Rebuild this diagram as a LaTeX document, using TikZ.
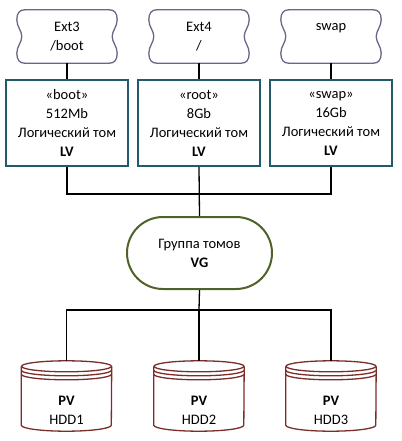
\documentclass[tikz,border=0pt]{standalone}
\usepackage{fontspec}
\setmainfont{Carlito}
\usetikzlibrary{calc}
\definecolor{cloudc}{HTML}{6F6387}
\definecolor{lvc}{HTML}{215A68}
\definecolor{vgc}{HTML}{4F6228}
\definecolor{pvc}{HTML}{7A2E2A}
\newcommand\mycloud[1]{%
  \draw[cloudline]
    ($(#1.north west)+(8,0)$) -- ($(#1.north east)+(-8,0)$)
    .. controls ($(#1.north east)+(-3,0)$) and ($(#1.north east)+(0,3)$) .. ($(#1.north east)+(0,10)$)
    .. controls ($(#1.north east)+(0,17)$) and ($(#1.east)+(-5,-6)$) .. ($(#1.east)+(-5,0)$)
    .. controls ($(#1.east)+(-5,6)$) and ($(#1.south east)+(0,-17)$) .. ($(#1.south east)+(0,-10)$)
    .. controls ($(#1.south east)+(0,-3)$) and ($(#1.south east)+(-3,0)$) .. ($(#1.south east)+(-8,0)$)
    -- ($(#1.south west)+(8,0)$)
    .. controls ($(#1.south west)+(3,0)$) and ($(#1.south west)+(0,-3)$) .. ($(#1.south west)+(0,-10)$)
    .. controls ($(#1.south west)+(0,-17)$) and ($(#1.west)+(5,6)$) .. ($(#1.west)+(5,0)$)
    .. controls ($(#1.west)+(5,-6)$) and ($(#1.north west)+(0,17)$) .. ($(#1.north west)+(0,10)$)
    .. controls ($(#1.north west)+(0,3)$) and ($(#1.north west)+(3,0)$) .. cycle;}
\newcommand\mydisk[1]{%
  \draw[diskline] ($(#1.north west)+(0,5.5)$) -- ($(#1.south west)+(0,-6)$)
    arc[start angle=180, end angle=0, x radius=45, y radius=6]
    -- ($(#1.north east)+(0,5.5)$);
  \draw[diskline] ($(#1.north)+(0,5.5)$) ellipse [x radius=45, y radius=5.5];
  \draw[diskline] ($(#1.north west)+(0,9.5)$) arc[start angle=180, end angle=0, x radius=45, y radius=5.5];
  \draw[diskline] ($(#1.north west)+(0,13.5)$) arc[start angle=180, end angle=0, x radius=45, y radius=5.5];}
\begin{document}
\begin{tikzpicture}[x=1pt,y=-1pt,
  every node/.style={font=\fontsize{14.5}{19}\selectfont, align=center, inner sep=0pt},
  cloudline/.style={draw=cloudc, line width=1.3pt},
  cloudbox/.style={minimum width=100pt, minimum height=53pt},
  lvbox/.style={draw=lvc, line width=2pt, minimum width=122pt, minimum height=86pt},
  vgbox/.style={draw=vgc, line width=2pt, rounded corners=36pt, minimum width=145pt, minimum height=72pt},
  diskbox/.style={minimum width=90pt, minimum height=70pt},
  diskline/.style={draw=pvc, line width=1.3pt},
  conn/.style={draw=black, line width=1.3pt}]
\useasboundingbox (0,0) rectangle (401,441);
% clouds
\node[cloudbox] (c1) at (67,36.5) {Ext3\\/boot};
\node[cloudbox] (c2) at (199,36.5) {Ext4\\/};
\node[cloudbox] (c3) at (331,36.5) {swap\\\mbox{}};
\mycloud{c1}\mycloud{c2}\mycloud{c3}
% LV boxes
\node[lvbox] (b1) at (67,123) {«boot»\\512Mb\\Логический том\\\textbf{LV}};
\node[lvbox] (b2) at (199,123) {«root»\\8Gb\\Логический том\\\textbf{LV}};
\node[lvbox] (b3) at (331,123) {«swap»\\16Gb\\Логический том\\\textbf{LV}};
% VG
\node[vgbox] (vg) at (199.5,253) {Группа томов\\\textbf{VG}};
% disks
\node[diskbox] (p1) at (66.5,396) {};
\node[diskbox] (p2) at (199,396) {};
\node[diskbox] (p3) at (331,396) {};
\mydisk{p1}\mydisk{p2}\mydisk{p3}
\node (t1) at ($(p1.center)+(0,14)$) {\textbf{PV}\\HDD1};
\node (t2) at ($(p2.center)+(0,14)$) {\textbf{PV}\\HDD2};
\node (t3) at ($(p3.center)+(0,14)$) {\textbf{PV}\\HDD3};
% connectors
\coordinate (bus1) at (199,194);
\coordinate (bus2) at (199,310);
\draw[conn] (c1.south) -- (b1.north);
\draw[conn] (c2.south) -- (b2.north);
\draw[conn] (c3.south) -- (b3.north);
\draw[conn] (b1.south) |- (bus1) -| (b3.south);
\draw[conn] (b2.south) -- (vg.north);
\draw[conn] (vg.south) -- (bus2);
\draw[conn] (p1.north) |- (bus2) -| (p3.north);
\draw[conn] (bus2) -- (p2.north);
\end{tikzpicture}
\end{document}
